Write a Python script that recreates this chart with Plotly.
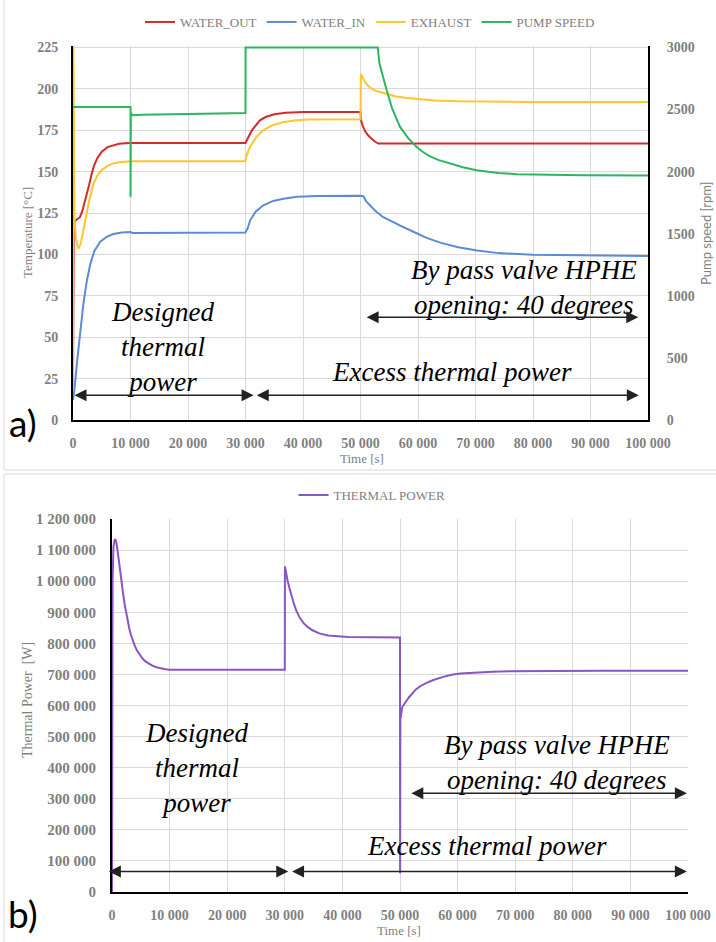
import plotly.graph_objects as go

# ---------------- data: panel a) ----------------
t_water_out = [0, 120, 300, 700, 1200, 1600, 2000, 2400, 2800, 3200, 3600, 4200, 5000, 6000, 7000, 8000, 9000,
               10000, 30000, 30400, 31100, 32500, 33500, 35000, 37000, 40000, 50000, 50100, 50400, 50800, 51300,
               51900, 52500, 53100, 100000]
water_out = [20, 110, 120, 121, 122.5, 126, 131, 136, 142, 148, 153, 158, 162, 164.8, 166, 166.8, 167.1,
             167.3, 167.3, 170.5, 175, 181, 183, 184.7, 185.6, 186, 186, 181, 177.5, 174.5, 172,
             170, 168.2, 167, 167]

t_water_in = [0, 300, 700, 1200, 1800, 2400, 3000, 3700, 4700, 5800, 7000, 8500, 10000, 10300, 30000, 30400,
              30800, 31800, 33100, 34800, 36600, 39000, 42400, 50000, 50500, 51000, 51800, 52500, 53900, 55500,
              57000, 59000, 61500, 64000, 67000, 70000, 74000, 80000, 88000, 100000]
water_in = [12, 20, 35, 53, 70, 84, 94, 102, 107.5, 110.5, 112.3, 113.3, 113.6, 113, 113.3, 116,
            120.6, 126, 129.7, 132.3, 133.7, 134.8, 135.3, 135.4, 135.2, 132, 129, 126.6, 122.6, 119.6,
            117.3, 114, 110, 107, 104.3, 102.5, 100.8, 99.8, 99.3, 99]

t_exhaust = [0, 60, 250, 500, 900, 1300, 1800, 2300, 2800, 3500, 4200, 5000, 6000, 7000, 8500, 10000, 30000,
             30100, 30800, 31900, 33100, 34500, 36500, 38500, 41000, 50000, 50050, 50500, 51000, 51700, 52500,
             54000, 56000, 58000, 60000, 63000, 67000, 72000, 80000, 100000]
exhaust = [20, 232, 122, 110, 103.5, 106, 114.5, 124, 132.5, 142, 147.5, 151, 153.5, 155, 155.9, 156.3, 156.3,
           159, 165, 171, 175, 177.8, 179.8, 180.9, 181.5, 181.6, 209, 206, 203, 200.7, 199,
           197.5, 195.5, 194.5, 193.8, 193, 192.5, 192.2, 192, 192]

t_pump = [0, 10000, 10010, 10060, 10400, 12000, 20000, 30000, 30010, 53000, 53300, 54000, 54550, 55500, 56870,
          58300, 59770, 60800, 62000, 63500, 65570, 67800, 70200, 74000, 77160, 82000, 88700, 100000]
pump_speed = [2520, 2520, 1796, 2470, 2455, 2458, 2465, 2472, 3000, 3000, 2870, 2740, 2655, 2510, 2360,
              2270, 2199, 2160, 2125, 2095, 2067, 2035, 2011, 1990, 1979, 1974, 1971, 1970]

# ---------------- data: panel b) ----------------
t_power = [0, 100, 250, 480, 650, 800, 1000, 1200, 1450, 1700, 1950, 2200, 2450, 2700, 3000, 3300, 3650, 4000,
           4400, 4800, 5300, 5800, 6400, 7000, 7700, 8500, 9300, 10000, 30000,
           30020, 30200, 30500, 30850, 31200, 31600, 32000, 32600, 33300, 34000, 34800, 36000, 37500, 39000,
           41000, 50000,
           50020, 50060, 50400, 51500, 52700, 53500, 54600, 55800, 57500, 59200, 60500, 62000, 64000, 66000,
           69000, 73000, 85000, 100000]
thermal_power = [0, 1000000, 1110000, 1135000, 1132000, 1120000, 1093000, 1060000, 1025000, 990000, 957000,
                 925000, 898000, 873000, 848000, 826000, 806000, 790000,
                 775000, 763000, 751000, 742000, 734000, 728000, 723000, 719000, 716500, 715000, 715000,
                 1047000, 1025000, 1000000, 975000, 950000, 926000, 905000, 882000, 864000, 852000, 842000,
                 832000, 825500, 822500,
                 820500, 819000,
                 60000, 555000, 595000, 625000, 651000, 662000, 673000, 682000, 692000, 700000, 703000, 705000,
                 707000, 708500,
                 709800, 710500, 711500, 711500]

x_ticks = [0, 10000, 20000, 30000, 40000, 50000, 60000, 70000, 80000, 90000, 100000]
temp_ticks = [0, 25, 50, 75, 100, 125, 150, 175, 200, 225]
rpm_ticks = [0, 500, 1000, 1500, 2000, 2500, 3000]
power_ticks = [0, 100000, 200000, 300000, 400000, 500000, 600000, 700000, 800000, 900000, 1000000, 1100000,
               1200000]

W, H = 716, 942


def px(x):
    return x / W


def py(y):
    return 1 - y / H


RED = "#d22b2b"
BLUE = "#5b8bd8"
YELLOW = "#ffc52e"
GREEN = "#2db560"
PURPLE = "#8a55c4"
GRID = "#d9d9d9"
TXT = "#7f7f7f"
SERIF = "Liberation Serif"

tickfont = dict(family=SERIF, size=14, color=TXT, weight="bold")

fig = go.Figure()
fig.add_trace(go.Scatter(x=t_water_out, y=water_out, name="WATER_OUT", mode="lines",
                         line=dict(color=RED, width=2), xaxis="x", yaxis="y", legend="legend"))
fig.add_trace(go.Scatter(x=t_water_in, y=water_in, name="WATER_IN", mode="lines",
                         line=dict(color=BLUE, width=2), xaxis="x", yaxis="y", legend="legend"))
fig.add_trace(go.Scatter(x=t_exhaust, y=exhaust, name="EXHAUST", mode="lines",
                         line=dict(color=YELLOW, width=2), xaxis="x", yaxis="y", legend="legend"))
fig.add_trace(go.Scatter(x=t_pump, y=pump_speed, name="PUMP SPEED", mode="lines",
                         line=dict(color=GREEN, width=2), xaxis="x", yaxis="y2", legend="legend"))
fig.add_trace(go.Scatter(x=t_power, y=thermal_power, name="THERMAL POWER", mode="lines",
                         line=dict(color=PURPLE, width=2), xaxis="x2", yaxis="y3", legend="legend2"))

common_x = dict(range=[0, 100000], tickvals=x_ticks, tickformat=",d", showgrid=True, gridcolor=GRID,
                gridwidth=1, zeroline=False, showline=True, linecolor="black", linewidth=2, ticks="",
                tickfont=tickfont, ticklabelstandoff=9, automargin=False)

fig.update_layout(
    width=W, height=H, margin=dict(l=0, r=0, t=0, b=0, autoexpand=False),
    paper_bgcolor="white", plot_bgcolor="white",
    separators=". ",
    xaxis=dict(domain=[px(73), px(648)], anchor="y", **common_x),
    yaxis=dict(domain=[py(420), py(46)], range=[0, 225.9], tickvals=temp_ticks,
               showgrid=True, gridcolor=GRID, zeroline=False, showline=True, linecolor="black", linewidth=2,
               ticks="", tickfont=tickfont, ticklabelstandoff=10, automargin=False),
    yaxis2=dict(overlaying="y", side="right", anchor="x", range=[0, 3012], tickvals=rpm_ticks,
                tickformat="d", showgrid=False, zeroline=False, showline=True, linecolor="black", linewidth=2,
                ticks="", tickfont=tickfont, ticklabelstandoff=14, automargin=False),
    xaxis2=dict(domain=[px(112), px(688)], anchor="y3", **common_x),
    yaxis3=dict(domain=[py(892), py(519)], anchor="x2", range=[0, 1200000], tickvals=power_ticks,
                tickformat=",d", showgrid=True, gridcolor=GRID, zeroline=False, showline=True, linecolor="black",
                linewidth=2, ticks="", tickfont=dict(family=SERIF, size=15, color=TXT, weight="bold"),
                ticklabelstandoff=11, automargin=False),
    legend=dict(orientation="h", x=px(370), xanchor="center", y=py(22), yanchor="middle",
                font=dict(family=SERIF, size=13, color=TXT), itemwidth=30, bgcolor="rgba(0,0,0,0)"),
    legend2=dict(orientation="h", x=px(372), xanchor="center", y=py(495), yanchor="middle",
                 font=dict(family=SERIF, size=13, color=TXT), itemwidth=30, bgcolor="rgba(0,0,0,0)"),
    showlegend=True,
)

# panel borders
fig.add_shape(type="rect", xref="paper", yref="paper", x0=px(4), x1=px(720), y0=py(470), y1=py(-2),
              line=dict(color=GRID, width=1), layer="below")
fig.add_shape(type="rect", xref="paper", yref="paper", x0=px(4), x1=px(720), y0=py(946), y1=py(474),
              line=dict(color=GRID, width=1), layer="below")

ann = []
titlefont = dict(family=SERIF, size=13, color=TXT)


def ptext(text, x, y, font, angle=0):
    return dict(text=text, xref="paper", yref="paper", x=px(x), y=py(y), xanchor="center", yanchor="middle",
                textangle=angle, showarrow=False, font=font)


# axis titles
ann.append(ptext("Temperature [°C]", 27, 233, titlefont, -90))
ann.append(ptext("Pump speed [rpm]", 706, 233, dict(family="Lato", size=13, color=TXT), -90))
ann.append(ptext("Time [s]", 362, 458, titlefont))
ann.append(ptext("Thermal Power\u00a0 [W]", 27, 700, dict(family=SERIF, size=14, color=TXT), -90))
ann.append(ptext("Time [s]", 399, 930, titlefont))
# panel labels
ann.append(ptext("a)", 23, 422, dict(family="Lato", size=37, color="black")))
ann.append(ptext("b)", 23, 913, dict(family="Lato", size=37, color="black")))

ifont = dict(family=SERIF, size=27, color="black", style="italic")
# panel a text
ann.append(dict(text="Designed<br>thermal<br>power", xref="x", yref="y", x=15500, y=44, showarrow=False,
                font=ifont, align="center"))
ann.append(dict(text="Excess thermal power", xref="x", yref="y", x=65900, y=29, showarrow=False, font=ifont))
ann.append(dict(text="By pass valve HPHE<br>opening: 40 degrees", xref="x", yref="y", x=78400, y=80,
                showarrow=False, font=ifont, align="center"))
# panel b text
ann.append(dict(text="Designed<br>thermal<br>power", xref="x2", yref="y3", x=14600, y=399000, showarrow=False,
                font=ifont, align="center"))
ann.append(dict(text="Excess thermal power", xref="x2", yref="y3", x=65100, y=148000, showarrow=False,
                font=ifont))
ann.append(dict(text="By pass valve HPHE<br>opening: 40 degrees", xref="x2", yref="y3", x=77300, y=418000,
                showarrow=False, font=ifont, align="center"))


def darrow(xr, yr, x0, x1, y):
    return dict(text="", xref=xr, yref=yr, axref=xr, ayref=yr, x=x1, y=y, ax=x0, ay=y, showarrow=True,
                arrowside="end+start", arrowhead=2, arrowsize=1.6, arrowwidth=1.5, arrowcolor="#222",
                standoff=0, startstandoff=0)


ann.append(darrow("x", "y", 0, 31400, 15))
ann.append(darrow("x", "y", 31700, 98400, 15))
ann.append(darrow("x", "y", 50800, 98300, 62))
ann.append(darrow("x2", "y3", -800, 30600, 66000))
ann.append(darrow("x2", "y3", 31000, 99800, 66000))
ann.append(darrow("x2", "y3", 51700, 99800, 318000))

fig.update_layout(annotations=ann)

fig.write_html("out.html")
